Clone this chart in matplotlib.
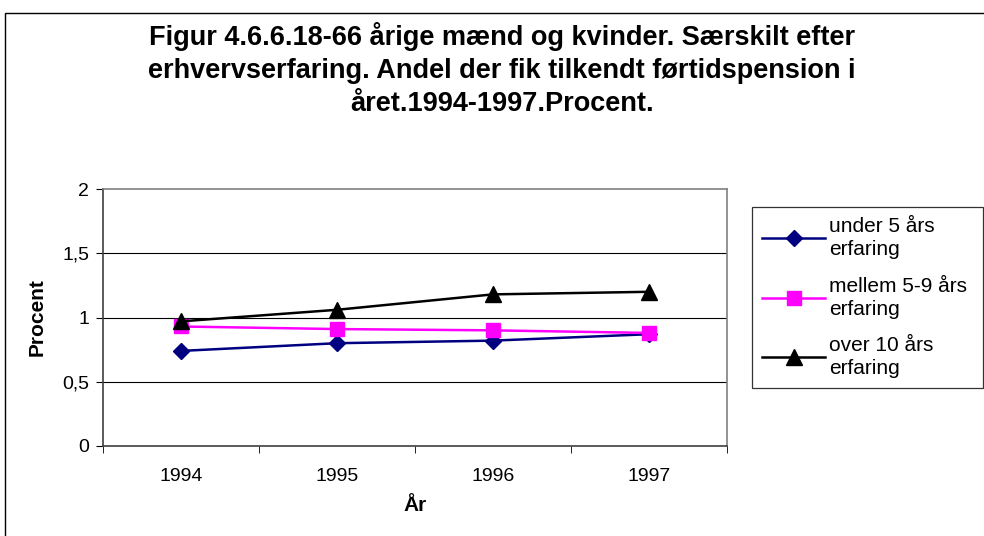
import matplotlib
matplotlib.use("Agg")
import matplotlib.pyplot as plt
from matplotlib.patches import Rectangle
from matplotlib.ticker import FixedLocator, NullFormatter

plt.rcParams["font.family"] = ["Liberation Sans", "DejaVu Sans"]

years = ["1994", "1995", "1996", "1997"]
under_5 = [0.74, 0.80, 0.82, 0.87]
mellem_5_9 = [0.93, 0.91, 0.90, 0.88]
over_10 = [0.97, 1.06, 1.18, 1.20]
series_labels = ["under 5 års\nerfaring", "mellem 5-9 års\nerfaring", "over 10 års\nerfaring"]
y_ticks = [0, 0.5, 1, 1.5, 2]
y_tick_labels = ["0", "0,5", "1", "1,5", "2"]

title = ("Figur 4.6.6.18-66 årige mænd og kvinder. Særskilt efter\n"
         "erhvervserfaring. Andel der fik tilkendt førtidspension i\n"
         "året.1994-1997.Procent.")

W, H = 984, 536
fig = plt.figure(figsize=(W / 100, H / 100), dpi=100)
fig.patch.set_facecolor("white")

# outer chart border (cropped on right and bottom in the original)
fig.patches.append(Rectangle((4.5 / W, -0.1), 1.2, 1.1 - 12.5 / H, transform=fig.transFigure,
                             fill=False, edgecolor="black", linewidth=1.0, zorder=0))

ax = fig.add_axes([103 / W, 1 - 446 / H, (727 - 103) / W, (446 - 189) / H])
x = list(range(len(years)))

ax.plot(x, under_5, color="#000080", marker="D", markersize=8, linewidth=1.8,
        label=series_labels[0], zorder=3)
ax.plot(x, mellem_5_9, color="#FF00FF", marker="s", markersize=10, linewidth=1.8,
        label=series_labels[1], zorder=4)
ax.plot(x, over_10, color="black", marker="^", markersize=11, linewidth=1.8,
        label=series_labels[2], zorder=5)

ax.set_xlim(-0.5, len(years) - 0.5)
ax.set_ylim(0, 2)
ax.set_xticks(x)
ax.set_xticklabels(years, fontsize=14)
ax.xaxis.set_minor_locator(FixedLocator([i - 0.5 for i in range(len(years) + 1)]))
ax.xaxis.set_minor_formatter(NullFormatter())
ax.tick_params(axis="x", which="major", length=0, pad=16)
ax.tick_params(axis="x", which="minor", length=5, direction="out", color="black")
ax.set_yticks(y_ticks)
ax.set_yticklabels(y_tick_labels, fontsize=14)
ax.tick_params(axis="y", length=5, direction="out", pad=5)

for yv in y_ticks[1:-1]:
    ax.axhline(yv, color="black", linewidth=0.8, zorder=1)

for side in ("top", "right"):
    ax.spines[side].set_color("#808080")
    ax.spines[side].set_linewidth(1.2)
for side in ("left", "bottom"):
    ax.spines[side].set_color("#404040")
    ax.spines[side].set_linewidth(1.2)

ax.set_xlabel("År", fontsize=15, fontweight="bold", labelpad=8)
ax.set_ylabel("Procent", fontsize=15, fontweight="bold", labelpad=11)

fig.text(502 / W, 1 - 22 / H, title, ha="center", va="top", fontsize=19.5,
         fontweight="bold", linespacing=1.36)

leg = ax.legend(loc="upper left", bbox_to_anchor=(752 / W, 1 - 388 / H, (983 - 752) / W, (388 - 207) / H),
                bbox_transform=fig.transFigure, mode="expand", frameon=True, fancybox=False,
                edgecolor="black", fontsize=15, handlelength=3.0, handletextpad=0.2,
                labelspacing=0.85, borderaxespad=0, borderpad=0.5)
leg.get_frame().set_linewidth(0.9)
for t in leg.get_texts():
    t.set_linespacing(1.25)

fig.savefig("out.png", dpi=100, facecolor="white")
